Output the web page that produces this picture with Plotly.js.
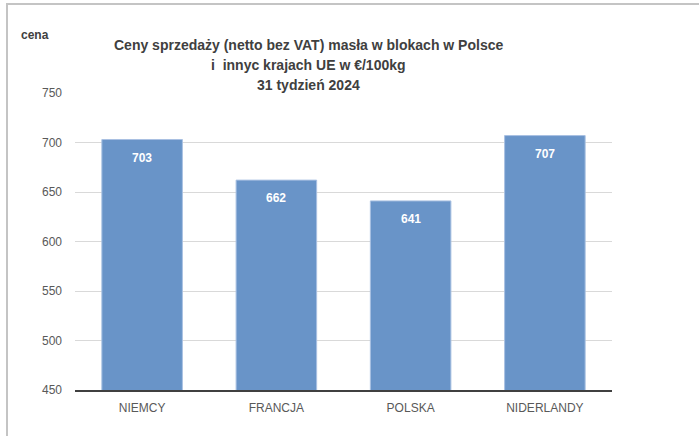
<!DOCTYPE html>
<html>
<head>
<meta charset="utf-8">
<script src="https://cdn.plot.ly/plotly-3.0.1.min.js"></script>
<style>
html,body{margin:0;padding:0;background:#fff;}
#chart{width:699px;height:436px;position:absolute;left:0;top:0;}
#frame{position:absolute;left:6px;top:3px;width:693px;height:433px;border-left:2px solid #c4c4c4;border-top:2px solid #c4c4c4;pointer-events:none;}
</style>
</head>
<body>
<div id="chart"></div>
<div id="frame"></div>
<script>
const categories = ["NIEMCY", "FRANCJA", "POLSKA", "NIDERLANDY"];
const prices = [703, 662, 641, 707];
const yTicks = [450, 500, 550, 600, 650, 700, 750];
const titleLines = [
  "Ceny sprzedaży (netto bez VAT) masła w blokach w Polsce",
  "i  innyc krajach UE w €/100kg",
  "31 tydzień 2024"
];

const font = "Liberation Sans, Arial, sans-serif";

const trace = {
  type: "bar",
  x: categories,
  y: prices,
  marker: {color: "#6994c8", line: {color: "#a9c1e2", width: 1}},
  hoverinfo: "none"
};

const annotations = categories.map((c, i) => ({
  x: c, y: prices[i], xref: "x", yref: "y",
  text: "<b>" + prices[i] + "</b>",
  showarrow: false, yanchor: "top", yshift: -9,
  font: {family: font, size: 12, color: "#ffffff"}
}));

const titleY = [1.1616, 1.0943, 1.0269];
titleLines.forEach((t, i) => {
  annotations.push({
    xref: "paper", yref: "paper", x: 0.4339, y: titleY[i],
    xanchor: "center", yanchor: "middle",
    text: "<b>" + t + "</b>", showarrow: false,
    font: {family: font, size: 14, color: "#404040"}
  });
});

annotations.push({
  xref: "paper", yref: "paper", x: -0.104, y: 1.195, xanchor: "left", yanchor: "middle",
  text: "<b>cena</b>", showarrow: false,
  font: {family: font, size: 12, color: "#404040"}
});

const layout = {
  width: 699, height: 436,
  margin: {l: 75, r: 87, t: 93, b: 46},
  paper_bgcolor: "#ffffff", plot_bgcolor: "#ffffff",
  bargap: 0.4,
  showlegend: false,
  xaxis: {
    tickfont: {family: font, size: 12, color: "#595959"},
    showline: true, linecolor: "#404040", linewidth: 2,
    ticks: "", ticklabelstandoff: 6, fixedrange: true
  },
  yaxis: {
    range: [450, 750], tickvals: yTicks, ticktext: yTicks.map(String),
    tickfont: {family: font, size: 12, color: "#595959"},
    gridcolor: "#d9d9d9", gridwidth: 1, zeroline: false,
    showline: false, ticks: "", ticklabelstandoff: 12, fixedrange: true
  },
  annotations: annotations
};

Plotly.newPlot("chart", [trace], layout, {displayModeBar: false, staticPlot: true});
</script>
</body>
</html>
